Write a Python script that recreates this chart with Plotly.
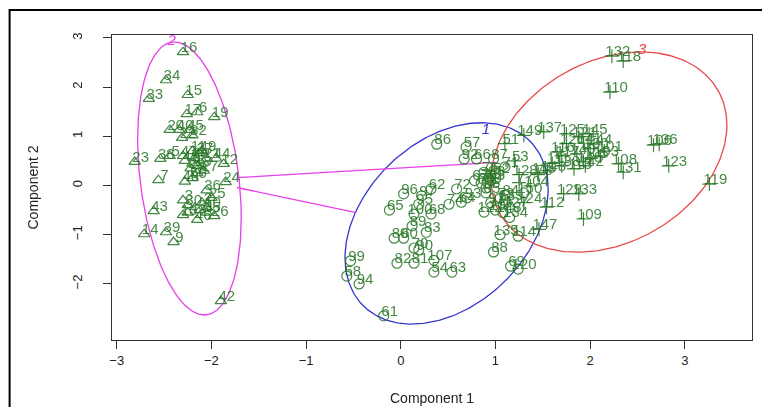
import numpy as np
import plotly.graph_objects as go

# ---- data ----
labels = list(range(1, 151))
comp1 = [
    -2.20, -2.10, -2.30, -2.25, -2.44, -2.15, -2.56, -2.15, -2.40, -2.05,
    -2.20, -1.87, -2.30, -2.71, -2.25, -2.30, -2.26, -2.15, -1.97, -2.44,
    -2.05, -2.31, -2.81, -1.85, -2.00, -1.97, -2.08, -2.18, -2.22, -2.25,
    -2.12, -2.20, -2.66, -2.48, -2.05, -2.05, -2.13, -2.54, -2.48, -2.34,
    -2.28, -1.90, -2.61, -1.95, -2.23, -2.15, -2.30, -2.28, -2.10, -2.20,
    1.10, 1.00, 1.20, 0.35, 0.95, 0.90, 0.69, -0.57, 0.92, 0.03,
    -0.18, 0.32, 0.54, 0.64, -0.12, 0.80, 0.78, 0.32, 1.16, 0.14,
    1.10, 0.59, 1.05, 0.51, 0.85, 0.88, 1.25, 1.45, 0.87, -0.07,
    0.14, -0.04, 0.27, 1.10, 0.90, 0.38, 0.98, 0.98, 0.12, 0.19,
    0.95, 0.67, 0.70, -0.44, 0.19, 0.03, 0.22, 0.95, -0.53, 0.14,
    2.15, 1.00, 2.11, 1.37, 2.00, 2.67, 0.35, 2.30, 1.93, 2.21,
    1.60, 1.54, 1.83, 1.24, 1.45, 1.65, 1.70, 2.35, 3.26, 1.24,
    1.88, 0.88, 2.83, 1.30, 1.75, 1.75, 1.15, 1.25, 1.72, 2.00,
    2.35, 2.23, 1.88, 1.15, 1.05, 2.73, 1.51, 1.70, 1.10, 1.86,
    1.93, 1.95, 1.08, 2.04, 1.99, 1.93, 1.46, 1.55, 1.30, 1.30,
]
comp2 = [
    0.45, -0.35, -0.30, -0.55, 0.60, 1.49, 0.11, 0.25, -1.15, -0.45,
    0.70, 0.44, -0.60, -0.99, 1.84, 2.71, 1.45, 0.40, 1.39, 1.13,
    0.55, 0.97, 0.48, 0.07, -0.25, -0.62, 0.30, 0.55, 0.35, -0.40,
    -0.50, 1.02, 1.76, 2.14, -0.55, -0.10, 0.66, 0.54, -0.95, 1.13,
    0.50, -2.35, -0.52, 0.55, 1.13, -0.70, 0.60, 0.08, 0.70, 0.15,
    0.85, 0.25, 0.50, -1.76, 0.10, -0.05, 0.78, -1.84, 0.05, -1.07,
    -2.65, -0.07, -1.76, -0.34, -0.50, 0.54, 0.10, -0.58, -1.64, -1.27,
    0.38, -0.07, -0.25, -0.38, 0.05, 0.27, 0.06, 0.22, 0.13, -1.07,
    -1.58, -1.58, -0.95, -0.20, -0.15, 0.84, 0.54, -1.35, -0.82, -1.31,
    -0.35, 0.54, -0.25, -2.00, -0.38, -0.17, -0.21, 0.20, -1.53, -0.58,
    0.70, -0.50, 0.60, -0.01, 0.55, 0.82, -1.52, 0.44, -0.68, 1.90,
    0.45, -0.44, 0.34, -1.03, 0.25, 0.68, 0.60, 2.53, 0.03, -1.70,
    0.99, -0.54, 0.40, -0.35, 1.05, 0.85, -0.45, 0.22, -0.17, 0.75,
    0.27, 2.63, -0.17, -0.65, -1.00, 0.84, 1.09, 0.40, -0.30, 0.64,
    0.86, 0.40, -0.55, 0.84, 1.05, 0.48, -0.89, 0.30, 1.02, -0.15,
]
cluster = (
    [2] * 50
    + [3, 1, 3, 1, 1, 1, 1, 1, 1, 1,
       1, 1, 1, 1, 1, 1, 1, 1, 1, 1,
       1, 1, 1, 1, 1, 1, 3, 3, 1, 1,
       1, 1, 1, 1, 1, 1, 1, 1, 1, 1,
       1, 1, 1, 1, 1, 1, 1, 1, 1, 1]
    + [3, 1, 3, 3, 3, 3, 1, 3, 3, 3,
       3, 3, 3, 1, 3, 3, 3, 3, 3, 1,
       3, 1, 3, 3, 3, 3, 1, 3, 3, 3,
       3, 3, 3, 1, 1, 3, 3, 3, 1, 3,
       3, 3, 1, 3, 3, 3, 3, 3, 3, 1]
)

# ellipses: centre, two conjugate semi-axes (data units)
ell_names = ["1", "2", "3"]
ell_center = [(0.484, -0.77), (-2.232, 0.143), (2.20, 0.68)]
ell_a = [(0.866, 1.70), (0.547, -0.80), (1.245, 0.55)]
ell_b = [(-0.634, 1.14), (0.0, -2.657), (0.0, 1.96)]
ell_colors = ["#3535d0", "#e83ee8", "#e84a4a"]
ell_label_pos = [(0.90, 1.12), (-2.42, 2.93), (2.55, 2.76)]

# segments joining the ellipses
seg_x = [[-1.73, 1.00], [-1.73, -0.47]]
seg_y = [[0.16, 0.47], [-0.04, -0.55]]

xticks = [-3, -2, -1, 0, 1, 2, 3]
yticks = [-2, -1, 0, 1, 2, 3]

# ---- figure ----
green = "#237323"
symbols = {1: "circle-open", 2: "triangle-up-open", 3: "cross-thin-open"}
fig = go.Figure()

t = np.linspace(0, 2 * np.pi, 300)
for i in range(3):
    cx, cy = ell_center[i]
    ax_, ay_ = ell_a[i]
    bx_, by_ = ell_b[i]
    fig.add_trace(go.Scatter(
        x=cx + ax_ * np.cos(t) + bx_ * np.sin(t),
        y=cy + ay_ * np.cos(t) + by_ * np.sin(t),
        mode="lines", line=dict(color=ell_colors[i], width=1.3),
        hoverinfo="skip", showlegend=False))

for sx, sy in zip(seg_x, seg_y):
    fig.add_trace(go.Scatter(x=sx, y=sy, mode="lines",
                             line=dict(color="#e83ee8", width=1.3),
                             showlegend=False, hoverinfo="skip"))

c1 = np.array(comp1)
c2 = np.array(comp2)
cl = np.array(cluster)
lab = np.array(labels)
for k in (1, 2, 3):
    m = cl == k
    fig.add_trace(go.Scatter(
        x=c1[m], y=c2[m], mode="markers",
        marker=dict(symbol=symbols[k], size=10, color=green,
                    line=dict(color=green, width=1.2)),
        opacity=0.85, showlegend=False))

# labels, slightly right of / above each point
dx, dy = 0.063, 0.08
fig.add_trace(go.Scatter(
    x=c1 + dx, y=c2 + dy, mode="text", text=[str(v) for v in lab],
    textfont=dict(color=green, size=15, family="Liberation Sans, Arial"),
    textposition="middle center", opacity=0.85, showlegend=False))

for i in range(3):
    fig.add_trace(go.Scatter(
        x=[ell_label_pos[i][0]], y=[ell_label_pos[i][1]], mode="text",
        text=["<i>" + ell_names[i] + "</i>"],
        textfont=dict(color=ell_colors[i], size=15, family="Liberation Sans, Arial"),
        showlegend=False))

axis_common = dict(showgrid=False, zeroline=False, showline=True, mirror=True,
                   linecolor="#333", linewidth=1, ticks="outside", ticklen=8,
                   tickcolor="#333",
                   tickfont=dict(size=13, color="#222", family="Liberation Sans, Arial"))
fig.update_xaxes(range=[-3.05, 3.71], tickvals=xticks, **axis_common)
fig.update_yaxes(range=[-3.14, 3.06], tickvals=yticks, tickangle=-90,
                 ticklabelstandoff=16, **axis_common)

fig.update_layout(
    width=762, height=399,
    margin=dict(l=104, r=18, t=27, b=67),
    plot_bgcolor="white", paper_bgcolor="white",
    font=dict(family="Liberation Sans, Arial", color="#222"),
    annotations=[
        dict(text="Component 1", x=0.5, y=-0.19, xref="paper", yref="paper",
             showarrow=False, font=dict(size=14), yanchor="middle"),
        dict(text="Component 2", x=-0.125, y=0.5, xref="paper", yref="paper",
             showarrow=False, font=dict(size=14), textangle=-90, xanchor="center"),
    ],
    shapes=[dict(type="rect", xref="paper", yref="paper",
                 x0=-0.160, x1=1.06, y0=-0.3, y1=1.082,
                 line=dict(color="black", width=2))],
)

fig.write_html("out.html")
